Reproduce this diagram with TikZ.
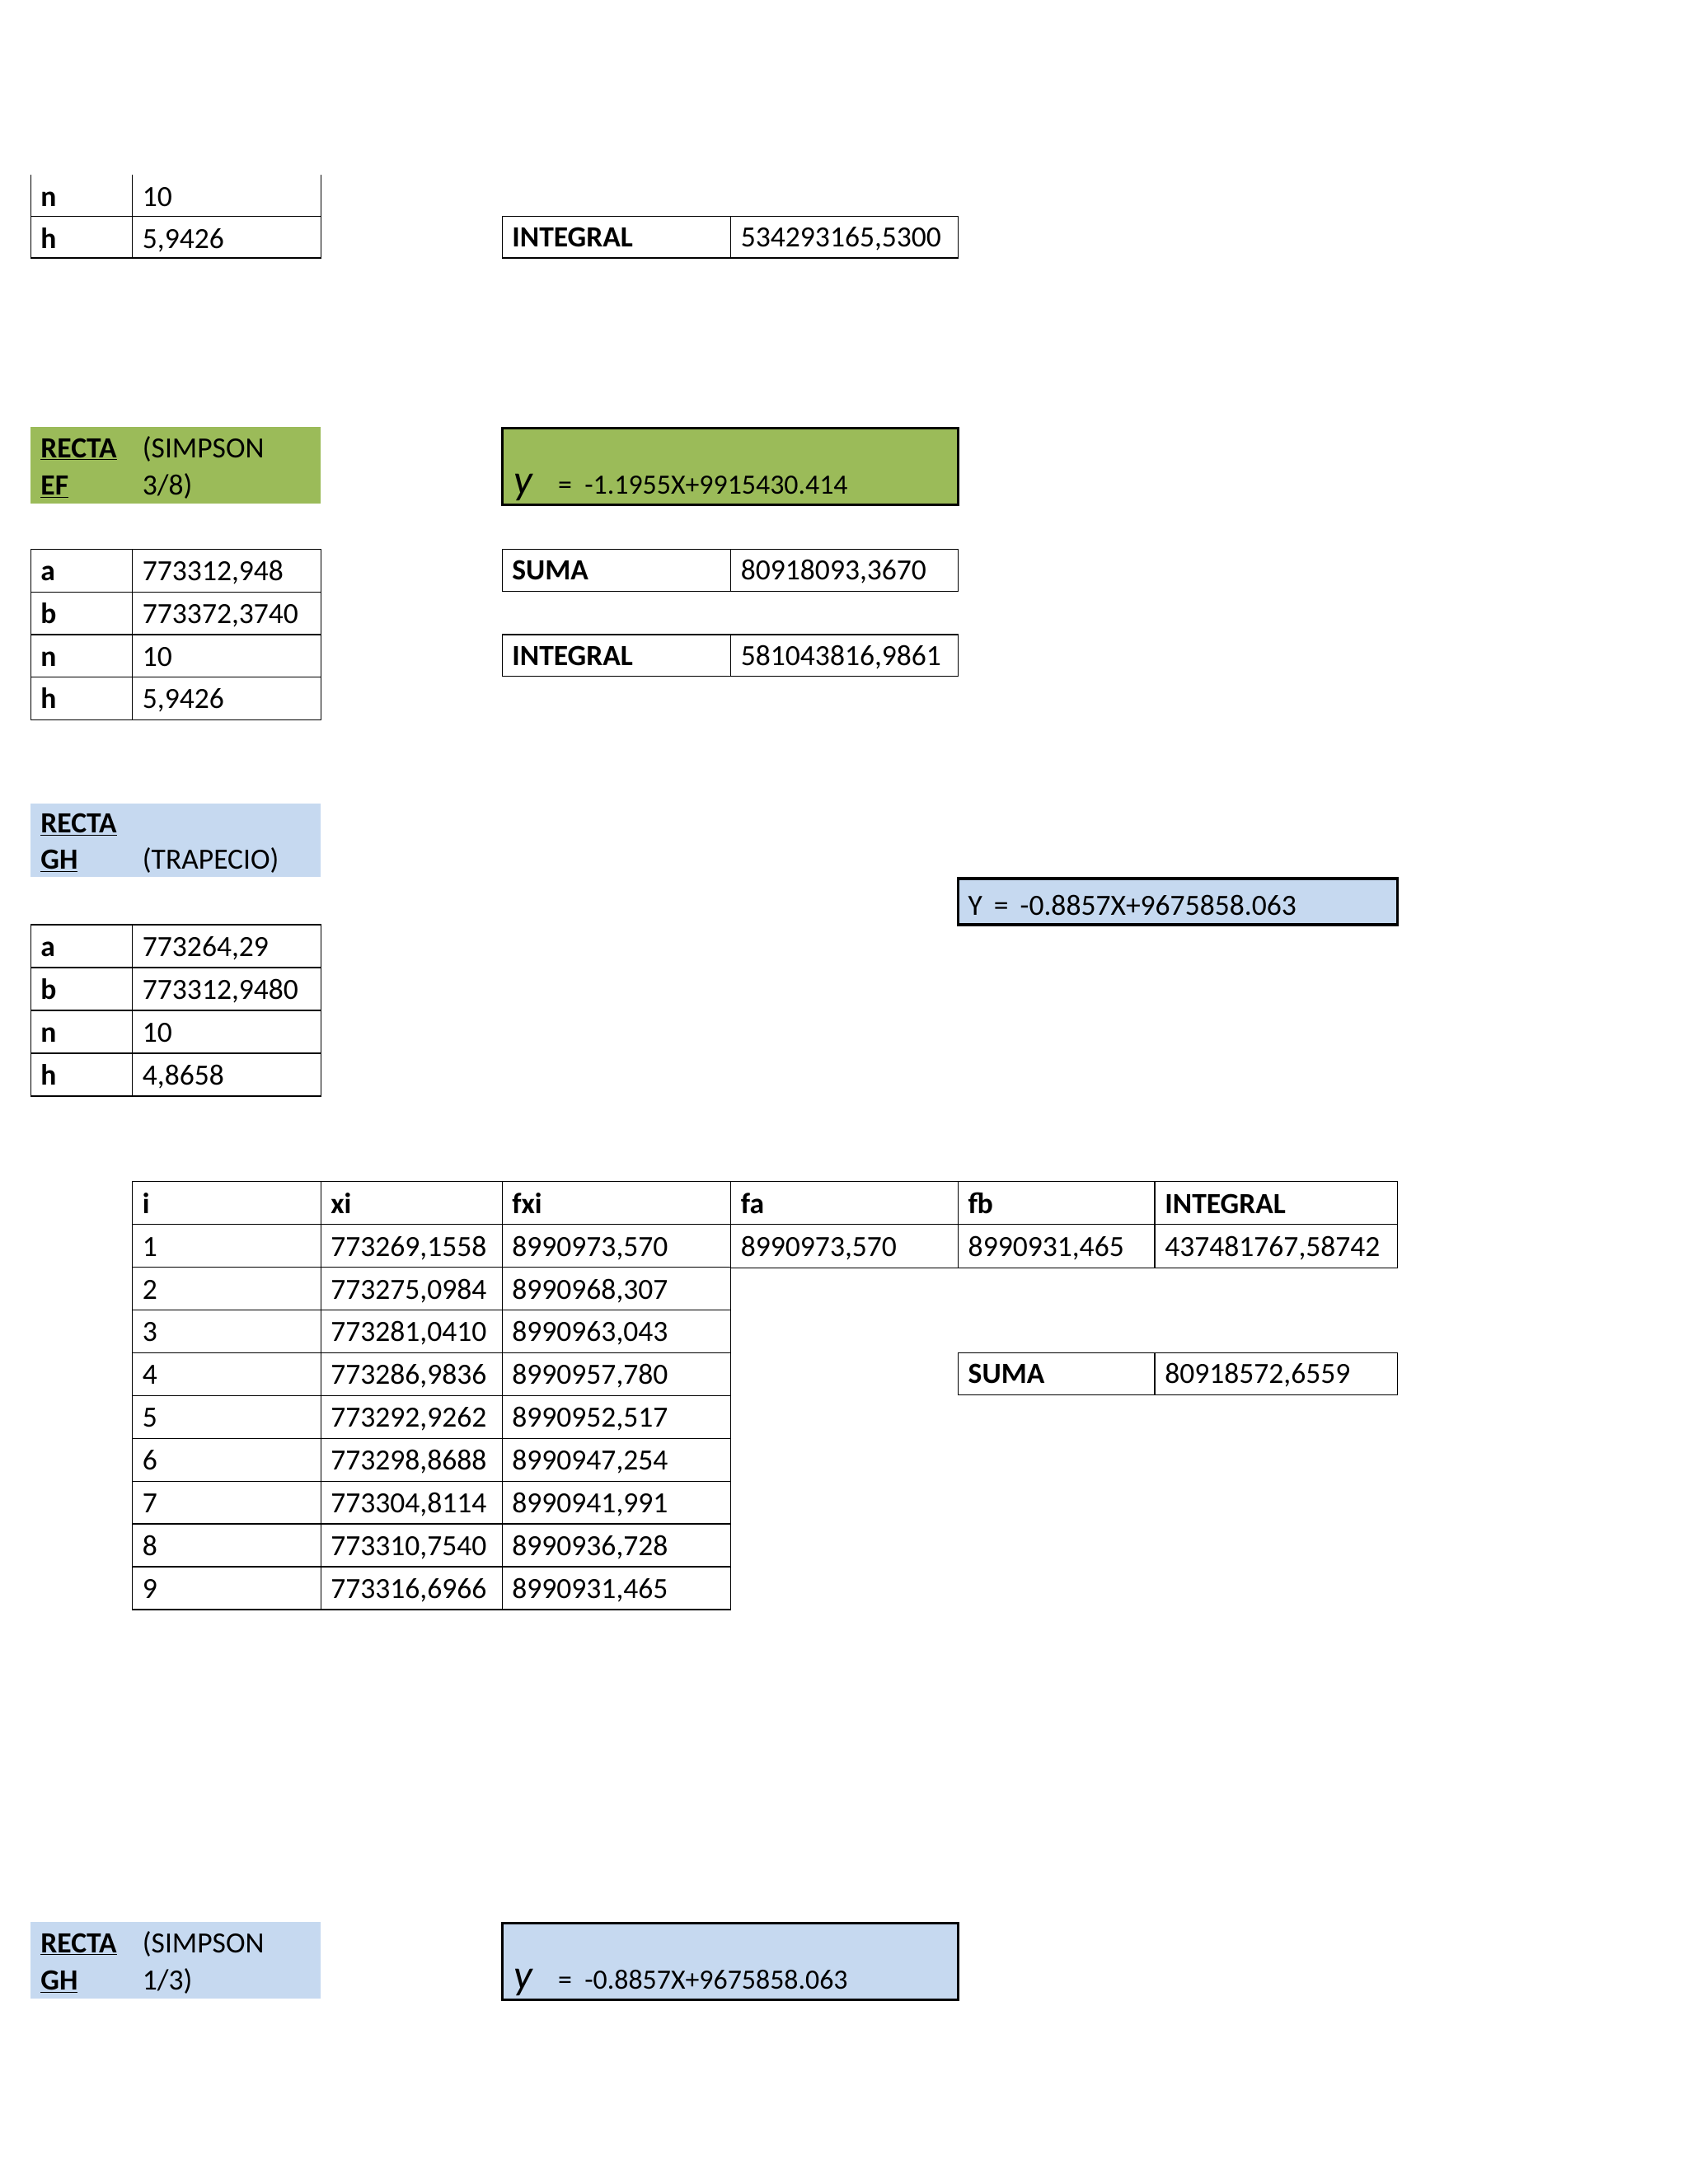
\documentclass[tikz,border=0pt]{standalone}
\usepackage{fontspec}
\setmainfont{Carlito}
\definecolor{gr}{HTML}{9BBB59}
\definecolor{bl}{HTML}{C6D9F0}
\tikzset{t/.style={anchor=base west,inner sep=0pt,font=\fontsize{21}{21}\selectfont},
 b/.style={t,font=\fontsize{21}{21}\selectfont\bfseries},
 g/.style={line width=0.8pt}, thk/.style={line width=2pt}}
\newcommand{\cell}[5]{\draw[g] (#1,#2) rectangle (#3,#4); \node[t] at ({#1+7},{#4-8}) {#5};}
\newcommand{\bcell}[5]{\draw[g] (#1,#2) rectangle (#3,#4); \node[b] at ({#1+7},{#4-8}) {#5};}
\newcommand{\ul}[1]{\underline{#1}}
\begin{document}
\begin{tikzpicture}[x=1pt,y=-1pt]
\useasboundingbox (0,0) rectangle (1210,1566);
% top table
\draw[g] (22,125)--(22,185)--(230,185)--(230,125) (95,125)--(95,185) (22,155)--(230,155);
\node[b] at (29,148) {n}; \node[t] at (102,148) {10};
\node[b] at (29,178) {h}; \node[t] at (102,178) {5,9426};
\bcell{360}{155}{524}{185}{INTEGRAL}\cell{524}{155}{687}{185}{534293165,5300}
% green
\fill[gr] (22,306) rectangle (230,361);
\node[b] at (29,328) {\ul{RECTA}}; \node[b] at (29,355) {\ul{EF}};
\node[t] at (102,328) {(SIMPSON}; \node[t] at (102,355) {3/8)};
\draw[thk,fill=gr] (360,307) rectangle (687,362);
\node[t] at (368,354) {\fontsize{30}{30}\selectfont\itshape y}; \node[t,font=\fontsize{20}{20}\selectfont] at (400,354) {=\ \ -1.1955X+9915430.414};
\foreach \l/\v [count=\i] in {a/773312{,}948,b/773372{,}3740,n/10,h/5{,}9426}{
 \pgfmathsetmacro\yy{394+(\i-1)*30.5}\pgfmathsetmacro\yb{\yy+30.5}
 \bcell{22}{\yy}{95}{\yb}{\l}\cell{95}{\yy}{230}{\yb}{\v}}
\bcell{360}{394}{524}{424}{SUMA}\cell{524}{394}{687}{424}{80918093,3670}
\bcell{360}{455}{524}{485}{INTEGRAL}\cell{524}{455}{687}{485}{581043816,9861}
% blue trapecio
\fill[bl] (22,576) rectangle (230,629);
\node[b] at (29,597) {\ul{RECTA}}; \node[b] at (29,623) {\ul{GH}};
\node[t] at (102,623) {(TRAPECIO)};
\draw[thk,fill=bl] (687,630) rectangle (1002,663);
\node[t] at (694,656) {Y\ \,=\ \,-0.8857X+9675858.063};
\foreach \l/\v [count=\i] in {a/773264{,}29,b/773312{,}9480,n/10,h/4{,}8658}{
 \pgfmathsetmacro\yy{663+(\i-1)*30.75}\pgfmathsetmacro\yb{\yy+30.75}
 \bcell{22}{\yy}{95}{\yb}{\l}\cell{95}{\yy}{230}{\yb}{\v}}
% big table
\bcell{95}{847}{230}{878}{i}\bcell{230}{847}{360}{878}{xi}\bcell{360}{847}{524}{878}{fxi}
\bcell{524}{847}{687}{878}{fa}\bcell{687}{847}{828}{878}{fb}\bcell{828}{847}{1002}{878}{INTEGRAL}
\cell{524}{878}{687}{909}{8990973,570}\cell{687}{878}{828}{909}{8990931,465}\cell{828}{878}{1002}{909}{437481767,58742}
\foreach \x/\f [count=\i] in {773269{,}1558/8990973{,}570,773275{,}0984/8990968{,}307,773281{,}0410/8990963{,}043,773286{,}9836/8990957{,}780,773292{,}9262/8990952{,}517,773298{,}8688/8990947{,}254,773304{,}8114/8990941{,}991,773310{,}7540/8990936{,}728,773316{,}6966/8990931{,}465}{
 \pgfmathsetmacro\yy{878+(\i-1)*30.67}\pgfmathsetmacro\yb{\yy+30.67}
 \cell{95}{\yy}{230}{\yb}{\i}\cell{230}{\yy}{360}{\yb}{\x}\cell{360}{\yy}{524}{\yb}{\f}}
\bcell{687}{970}{828}{1000}{SUMA}\cell{828}{970}{1002}{1000}{80918572,6559}
% blue simpson
\fill[bl] (22,1378) rectangle (230,1433);
\node[b] at (29,1400) {\ul{RECTA}}; \node[b] at (29,1427) {\ul{GH}};
\node[t] at (102,1400) {(SIMPSON}; \node[t] at (102,1427) {1/3)};
\draw[thk,fill=bl] (360,1379) rectangle (687,1434);
\node[t] at (368,1426) {\fontsize{30}{30}\selectfont\itshape y}; \node[t,font=\fontsize{20}{20}\selectfont] at (400,1426) {=\ \ -0.8857X+9675858.063};
\end{tikzpicture}
\end{document}
